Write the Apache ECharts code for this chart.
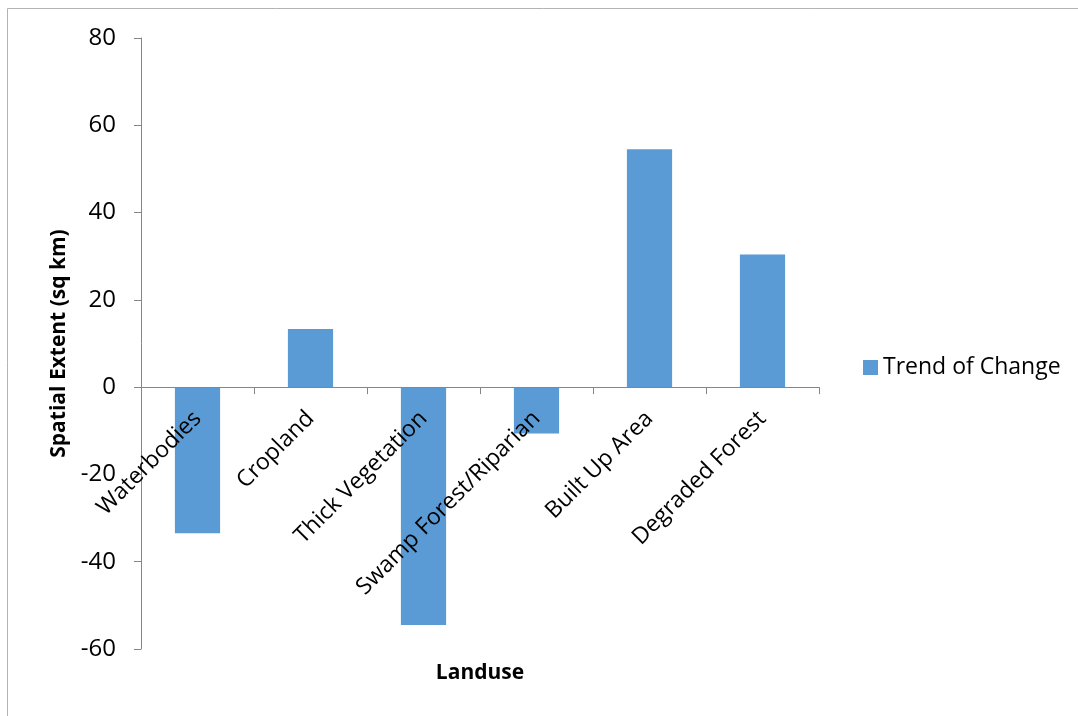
<!DOCTYPE html>
<html>
<head>
<meta charset="utf-8">
<script src="https://cdn.jsdelivr.net/npm/echarts@6/dist/echarts.min.js"></script>
<style>
html,body{margin:0;padding:0;background:#fff;}
#chart{width:1078px;height:716px;}
</style>
</head>
<body>
<div id="chart"></div>
<script>
const categories = ['Waterbodies', 'Cropland', 'Thick Vegetation', 'Swamp Forest/Riparian', 'Built Up Area', 'Degraded Forest'];
const trendOfChange = [-33.5, 13.3, -54.5, -10.6, 54.5, 30.4];
const seriesName = 'Trend of Change';
const yMin = -60, yMax = 80, yStep = 20;

const FONT = '"Open Sans", sans-serif';
const chart = echarts.init(document.getElementById('chart'));
chart.setOption({
  backgroundColor: '#ffffff',
  animation: false,
  graphic: [{
    type: 'rect',
    shape: { x: 7.5, y: 8.5, width: 1200, height: 800 },
    style: { fill: 'none', stroke: '#b3b3b3', lineWidth: 1 },
    silent: true
  }],
  grid: { left: 141, top: 38, right: 259, bottom: 67, containLabel: false, outerBoundsMode: 'none' },
  legend: {
    data: [seriesName],
    left: 858, top: 351,
    icon: 'rect', itemWidth: 15, itemHeight: 15, itemGap: 10,
    textStyle: { fontFamily: FONT, fontSize: 23, color: '#000' }
  },
  xAxis: {
    type: 'category',
    data: categories,
    z: 10,
    name: 'Landuse',
    nameLocation: 'middle',
    nameGap: 14,
    nameTextStyle: { fontFamily: FONT, fontSize: 21, fontWeight: 'bold', color: '#000' },
    axisLine: { onZero: true, lineStyle: { color: '#868686', width: 1 } },
    axisTick: { show: true, length: 7, lineStyle: { color: '#868686' } },
    axisLabel: { interval: 0, rotate: 45, margin: -234, fontFamily: FONT, fontSize: 23, color: '#000' },
    splitLine: { show: false }
  },
  yAxis: {
    type: 'value',
    min: yMin, max: yMax, interval: yStep,
    name: 'Spatial Extent (sq km)',
    nameLocation: 'middle',
    nameGap: 70,
    nameTextStyle: { fontFamily: FONT, fontSize: 21, fontWeight: 'bold', color: '#000' },
    axisLine: { show: true, lineStyle: { color: '#868686', width: 1 } },
    axisTick: { show: true, length: 7, lineStyle: { color: '#868686' } },
    axisLabel: { margin: 25, fontFamily: FONT, fontSize: 24, color: '#000' },
    splitLine: { show: false }
  },
  series: [{
    name: seriesName,
    type: 'bar',
    z: 2,
    data: trendOfChange,
    barWidth: '40%',
    itemStyle: { color: '#5b9bd5' }
  }]
});
</script>
</body>
</html>
